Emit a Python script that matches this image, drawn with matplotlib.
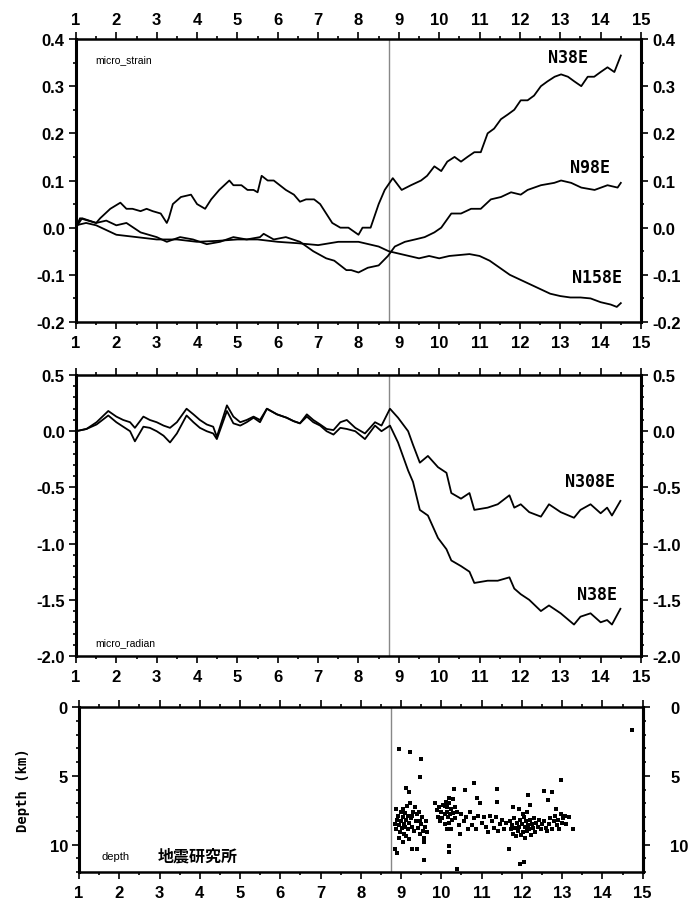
"""Strain / tilt records with hypocentre depths, three stacked panels."""
import matplotlib
matplotlib.use("Agg")
import matplotlib.pyplot as plt
from matplotlib.ticker import MultipleLocator

# ---- panel 1: strain (micro_strain) ----
x_n38 = [1.0, 1.1, 1.5, 1.6, 1.85, 2.1, 2.25, 2.4, 2.6, 2.75, 2.9, 3.1, 3.25, 3.3, 3.4,
         3.6, 3.85, 4.0, 4.2, 4.35, 4.55, 4.8, 4.9, 5.1, 5.25, 5.4, 5.5, 5.6, 5.75, 5.9,
         6.05, 6.2, 6.4, 6.55, 6.7, 6.9, 7.05, 7.2, 7.35, 7.55, 7.75, 8.0, 8.1, 8.3,
         8.5, 8.65, 8.85, 9.07, 9.3, 9.55, 9.7, 9.88, 10.05, 10.2, 10.38, 10.54, 10.7,
         10.87, 11.03, 11.2, 11.36, 11.53, 11.7, 11.86, 12.02, 12.19, 12.35, 12.52,
         12.68, 12.86, 13.02, 13.19, 13.35, 13.52, 13.68, 13.84, 14.0, 14.17, 14.34, 14.5]
y_n38 = [0.0, 0.02, 0.01, 0.02, 0.04, 0.053, 0.04, 0.04, 0.035, 0.04, 0.035, 0.03, 0.01,
         0.02, 0.05, 0.065, 0.07, 0.05, 0.04, 0.06, 0.08, 0.1, 0.09, 0.09, 0.08, 0.08,
         0.075, 0.11, 0.1, 0.1, 0.09, 0.08, 0.07, 0.055, 0.06, 0.06, 0.05, 0.03, 0.01,
         0.0, 0.0, -0.015, 0.0, 0.0, 0.05, 0.08, 0.105, 0.08, 0.09, 0.1, 0.11, 0.13,
         0.12, 0.14, 0.15, 0.14, 0.15, 0.16, 0.16, 0.2, 0.21, 0.23, 0.24, 0.25, 0.27,
         0.27, 0.28, 0.3, 0.31, 0.32, 0.325, 0.32, 0.31, 0.3, 0.32, 0.32, 0.33, 0.34,
         0.33, 0.365]

x_n98 = [1.0, 1.15, 1.5, 1.75, 2.0, 2.25, 2.6, 3.0, 3.25, 3.58, 3.9, 4.24, 4.57, 4.9,
         5.23, 5.56, 5.65, 5.9, 6.2, 6.55, 6.88, 7.2, 7.4, 7.7, 7.82, 8.0, 8.23, 8.5,
         8.73, 8.9, 9.15, 9.4, 9.64, 9.88, 10.05, 10.3, 10.54, 10.79, 11.03, 11.28,
         11.53, 11.78, 12.02, 12.19, 12.52, 12.85, 13.02, 13.27, 13.52, 13.85, 14.17,
         14.42, 14.5]
y_n98 = [0.0, 0.02, 0.01, 0.015, 0.005, 0.01, -0.01, -0.02, -0.03, -0.02, -0.025,
         -0.035, -0.03, -0.02, -0.025, -0.02, -0.013, -0.025, -0.02, -0.03, -0.05,
         -0.065, -0.07, -0.09, -0.09, -0.095, -0.085, -0.08, -0.06, -0.04, -0.03,
         -0.025, -0.02, -0.01, 0.0, 0.03, 0.03, 0.04, 0.04, 0.06, 0.065, 0.075, 0.07,
         0.08, 0.09, 0.095, 0.1, 0.095, 0.085, 0.08, 0.09, 0.085, 0.095]

x_n158 = [1.0, 1.25, 1.5, 1.75, 2.0, 2.5, 3.0, 3.5, 4.0, 4.5, 5.0, 5.5, 6.0, 6.5, 7.0,
          7.5, 8.0, 8.5, 8.75, 9.0, 9.25, 9.5, 9.75, 10.0, 10.25, 10.5, 10.75, 11.0,
          11.25, 11.5, 11.75, 12.0, 12.25, 12.5, 12.75, 13.0, 13.25, 13.5, 13.75, 14.0,
          14.25, 14.4, 14.5]
y_n158 = [0.005, 0.01, 0.005, -0.005, -0.015, -0.02, -0.025, -0.025, -0.03, -0.028,
          -0.025, -0.025, -0.03, -0.033, -0.037, -0.03, -0.03, -0.04, -0.05, -0.055,
          -0.06, -0.065, -0.06, -0.065, -0.06, -0.058, -0.056, -0.06, -0.07, -0.085,
          -0.1, -0.11, -0.12, -0.13, -0.14, -0.145, -0.148, -0.148, -0.15, -0.158,
          -0.163, -0.168, -0.16]

# ---- panel 2: tilt (micro_radian) ----
x_tilt = [1.0, 1.26, 1.51, 1.8, 2.0, 2.17, 2.34, 2.46, 2.67, 2.83, 3.0, 3.17, 3.33, 3.5,
          3.74, 3.91, 4.07, 4.24, 4.4, 4.49, 4.74, 4.9, 5.07, 5.23, 5.4, 5.56, 5.73,
          5.98, 6.22, 6.39, 6.55, 6.72, 6.88, 7.05, 7.21, 7.38, 7.55, 7.71, 7.92, 8.16,
          8.41, 8.57, 8.78, 8.98, 9.23, 9.35, 9.52, 9.72, 9.97, 10.18, 10.3, 10.54,
          10.75, 10.87, 11.2, 11.45, 11.74, 11.86, 12.02, 12.23, 12.52, 12.72, 13.01,
          13.34, 13.5, 13.75, 14.0, 14.16, 14.28, 14.49]
y_n308 = [0.0, 0.02, 0.08, 0.18, 0.13, 0.1, 0.08, 0.03, 0.13, 0.1, 0.08, 0.05, 0.03,
          0.08, 0.2, 0.15, 0.1, 0.06, 0.04, -0.05, 0.23, 0.13, 0.08, 0.1, 0.13, 0.1,
          0.2, 0.15, 0.12, 0.09, 0.07, 0.15, 0.1, 0.06, 0.02, 0.01, 0.08, 0.1, 0.03,
          -0.02, 0.08, 0.05, 0.2, 0.12, 0.0, -0.12, -0.28, -0.22, -0.32, -0.37, -0.55,
          -0.6, -0.55, -0.7, -0.68, -0.65, -0.57, -0.68, -0.65, -0.72, -0.76, -0.65,
          -0.72, -0.77, -0.7, -0.65, -0.73, -0.68, -0.75, -0.62]
y_t38 = [0.0, 0.02, 0.06, 0.14, 0.08, 0.04, 0.0, -0.09, 0.04, 0.03, 0.0, -0.04, -0.1,
         -0.02, 0.14, 0.08, 0.03, 0.0, -0.02, -0.07, 0.18, 0.07, 0.05, 0.08, 0.12, 0.08,
         0.2, 0.15, 0.12, 0.09, 0.07, 0.13, 0.08, 0.05, 0.0, -0.03, 0.03, 0.02, 0.0,
         -0.07, 0.05, 0.0, 0.05, -0.1, -0.35, -0.45, -0.7, -0.75, -0.95, -1.05, -1.15,
         -1.2, -1.25, -1.35, -1.33, -1.33, -1.3, -1.4, -1.45, -1.5, -1.6, -1.55, -1.62,
         -1.72, -1.65, -1.62, -1.7, -1.68, -1.72, -1.58]

# ---- panel 3: hypocentre depths (km) ----
eq_x = [8.94, 9.23, 9.49, 9.46, 9.12, 9.19, 14.73, 12.98, 10.82, 10.31, 10.58, 11.37,
        12.15, 12.56, 12.76, 12.64, 10.88, 10.96, 11.37, 11.78, 11.94, 12.19, 12.84,
        13.17, 13.26, 8.86, 8.9, 9.27, 9.39, 9.56, 10.18, 10.18, 10.46, 11.67, 11.96,
        12.06, 10.38,
        8.85, 8.88, 8.9, 8.93, 8.95, 8.97, 9.0, 9.0, 9.02, 9.04, 9.05, 9.07, 9.08, 9.1,
        9.1, 9.12, 9.13, 9.15, 9.16, 9.18, 9.2, 9.2, 9.22, 9.25, 9.27, 9.3, 9.32, 9.35,
        9.37, 9.4, 9.42, 9.45, 9.47, 9.5, 9.52, 9.55, 9.57, 9.6, 9.62, 9.65, 8.87, 8.95,
        9.05, 9.28, 9.48, 9.58,
        9.85, 9.9, 9.92, 9.95, 9.97, 10.0, 10.02, 10.05, 10.08, 10.1, 10.12, 10.15,
        10.15, 10.17, 10.18, 10.2, 10.2, 10.22, 10.23, 10.25, 10.27, 10.3, 10.33, 10.35,
        10.4, 10.43, 10.08, 10.13, 10.28,
        10.5, 10.55, 10.6, 10.65, 10.7, 10.75, 10.8, 10.85, 10.9, 11.0, 11.05, 11.1,
        11.15, 11.2, 11.25, 11.3, 11.35, 11.4, 11.45, 11.5, 11.55, 11.6,
        11.7, 11.72, 11.75, 11.78, 11.8, 11.82, 11.85, 11.88, 11.9, 11.92, 11.95, 11.97,
        12.0, 12.02, 12.03, 12.05, 12.07, 12.08, 12.1, 12.12, 12.13, 12.15, 12.18, 12.2,
        12.22, 12.25, 12.28, 12.3, 12.33, 12.36, 12.4, 12.43, 12.47, 12.5,
        12.55, 12.6, 12.63, 12.67, 12.7, 12.75, 12.8, 12.83, 12.87, 12.9, 12.93, 12.97,
        13.0, 13.03, 13.07, 13.1]
eq_depth = [3.03, 3.27, 3.8, 5.08, 5.88, 6.17, 1.7, 5.33, 5.5, 5.93, 6.0, 5.98, 6.37,
            6.13, 6.17, 6.73, 6.6, 6.95, 6.9, 7.26, 7.38, 7.09, 7.38, 7.99, 8.89, 10.29,
            10.65, 10.29, 10.34, 11.14, 10.1, 10.58, 9.2, 10.34, 11.43, 11.3, 11.8,
            8.5, 8.9, 8.2, 7.9, 8.6, 9.1, 7.6, 8.3, 8.8, 7.4, 8.0, 8.5, 9.2, 7.7, 8.7, 8.2,
            9.4, 7.2, 8.9, 7.9, 8.4, 9.6, 7.0, 8.1, 8.7, 7.6, 9.0, 7.3, 8.3, 7.8, 8.8, 7.6,
            9.2, 8.5, 8.0, 9.0, 9.5, 8.7, 8.3, 9.1, 7.4, 9.5, 9.8, 7.9, 8.3, 9.8,
            7.0, 7.5, 8.0, 7.3, 8.3, 7.6, 8.1, 7.1, 7.8, 8.5, 6.9, 7.3, 7.6, 8.0, 8.4, 6.6,
            7.0, 7.8, 8.9, 7.4, 8.2, 7.7, 7.3, 8.1, 7.6, 8.6, 7.2, 8.9, 6.7,
            7.8, 8.3, 8.0, 8.9, 7.6, 8.6, 8.1, 8.9, 7.9, 8.4, 8.0, 8.7, 9.1, 7.9, 8.3, 8.8,
            8.0, 9.0, 8.5, 8.2, 8.9, 8.4,
            8.3, 8.9, 8.6, 9.2, 8.1, 8.8, 9.4, 8.4, 9.0, 8.7, 8.2, 9.3, 8.5, 7.8, 9.1, 8.0,
            8.7, 9.5, 8.3, 7.6, 9.0, 8.6, 8.9, 8.2, 9.3, 8.5, 8.8, 8.1, 9.1, 8.4, 8.7, 8.2,
            8.9, 8.5,
            8.3, 8.8, 9.0, 8.5, 8.1, 8.9, 8.3, 7.9, 8.6, 8.2, 8.9, 7.8, 8.4, 8.1, 7.9, 8.5]

DEPTH_TICKS = [0, 5, 10]
EVENT_X = 8.75
XTICKS = list(range(1, 16))

plt.rcParams["font.family"] = ["Liberation Sans", "DejaVu Sans"]
plt.rcParams["font.weight"] = "bold"
plt.rcParams["font.size"] = 12
plt.rcParams["axes.unicode_minus"] = False

fig = plt.figure(figsize=(6.92, 9.03), dpi=100)
ax1 = fig.add_axes([0.1098, 0.6423, 0.8165, 0.3134])
ax2 = fig.add_axes([0.1098, 0.2724, 0.8165, 0.3112])
ax3 = fig.add_axes([0.1142, 0.0332, 0.8145, 0.1827])


def style_axis(ax, top_labels, right_labels=True):
    ax.set_xlim(1, 15)
    ax.set_xticks(XTICKS)
    ax.xaxis.set_minor_locator(MultipleLocator(0.5))
    ax.tick_params(which="both", direction="out", top=True, right=True,
                   labelbottom=True, labeltop=top_labels, labelleft=True,
                   labelright=right_labels, width=1.2)
    ax.tick_params(which="major", length=5, pad=4)
    ax.tick_params(which="minor", length=2.5)
    ax.tick_params(axis="y", which="major", pad=3)
    for side, sp in ax.spines.items():
        sp.set_linewidth(2.2 if side in ("left", "right") else 1.8)
    ax.axvline(EVENT_X, color="#888888", lw=1.0, zorder=1)


# panel 1
ax1.plot(x_n38, y_n38, color="black", lw=1.3)
ax1.plot(x_n98, y_n98, color="black", lw=1.3)
ax1.plot(x_n158, y_n158, color="black", lw=1.3)
ax1.set_ylim(-0.2, 0.4)
ax1.set_yticks([-0.2, -0.1, 0.0, 0.1, 0.2, 0.3, 0.4])
ax1.yaxis.set_minor_locator(MultipleLocator(0.05))
style_axis(ax1, True)
ax1.text(0.035, 0.93, "micro_strain", transform=ax1.transAxes, fontsize=7.5,
         fontweight="normal", va="center")
lab = dict(family="DejaVu Sans Mono", fontsize=12, fontweight="bold", ha="center",
           va="center")
ax1.text(13.19, 0.362, "N38E", **lab)
ax1.text(13.73, 0.128, "N98E", **lab)
ax1.text(13.9, -0.105, "N158E", **lab)

# panel 2
ax2.plot(x_tilt, y_n308, color="black", lw=1.3)
ax2.plot(x_tilt, y_t38, color="black", lw=1.3)
ax2.set_ylim(-2.0, 0.5)
ax2.set_yticks([-2.0, -1.5, -1.0, -0.5, 0.0, 0.5])
ax2.yaxis.set_minor_locator(MultipleLocator(0.1))
style_axis(ax2, False)
ax2.text(0.035, 0.05, "micro_radian", transform=ax2.transAxes, fontsize=7.5,
         fontweight="normal", va="center")
ax2.text(13.73, -0.443, "N308E", **lab)
ax2.text(13.9, -1.448, "N38E", **lab)

# panel 3
ax3.scatter(eq_x, eq_depth, s=8, marker="s", color="black", linewidths=0, zorder=3)
ax3.set_ylim(12, 0)
ax3.set_yticks(DEPTH_TICKS)
ax3.yaxis.set_minor_locator(MultipleLocator(1))
style_axis(ax3, False, right_labels=False)
sec = ax3.secondary_yaxis("right")
sec.set_yticks(DEPTH_TICKS)
sec.tick_params(length=0, pad=20)
sec.spines["right"].set_linewidth(2.2)
ax3.set_ylabel("Depth (km)", family="DejaVu Sans Mono", fontweight="bold",
               fontsize=10)
ax3.yaxis.set_label_coords(-0.087, 0.5)
ax3.text(0.04, 0.1, "depth", transform=ax3.transAxes, fontsize=8,
         fontweight="normal", va="center")
ax3.text(0.14, 0.1, "地震研究所", transform=ax3.transAxes, fontsize=11.5,
         family=["Noto Sans CJK JP", "DejaVu Sans"], fontweight="bold", va="center")

fig.savefig("out.png", dpi=100)
